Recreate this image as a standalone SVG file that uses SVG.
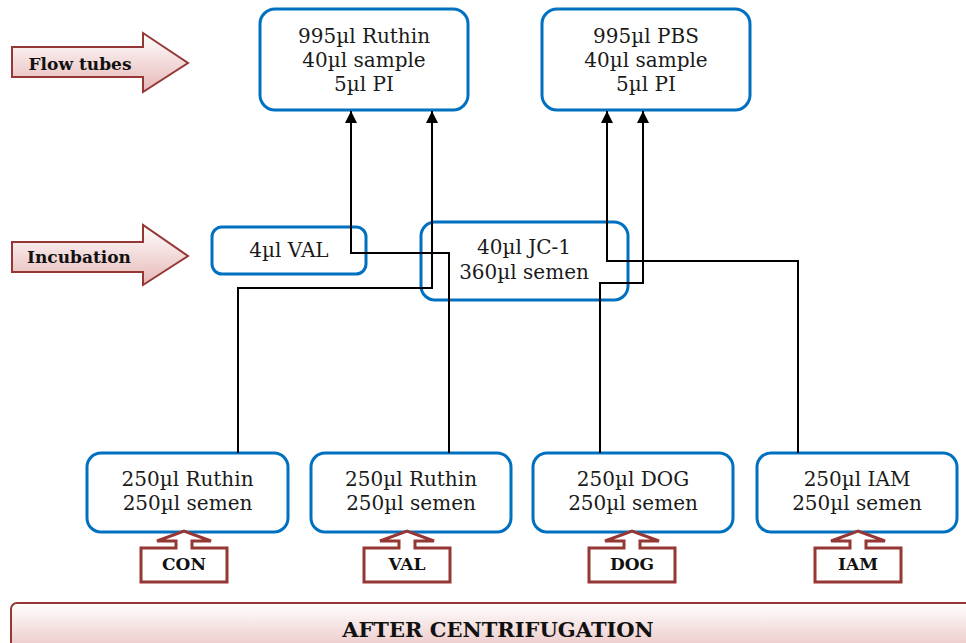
<svg xmlns="http://www.w3.org/2000/svg" width="966" height="643" viewBox="0 0 966 643">
  <style>
    .node { fill: #ffffff; stroke: #0070c0; stroke-width: 3; }
    .txt { font-family: "DejaVu Serif", "Liberation Serif", serif; font-size: 20px; fill: #1a1a1a; text-anchor: middle; }
    .lbl { font-family: "DejaVu Serif", "Liberation Serif", serif; font-size: 17px; font-weight: bold; fill: #111111; text-anchor: middle; }
    .big { font-size: 21px; }
    .tag { fill: url(#pink); stroke: #953735; stroke-width: 2; }
    .call { fill: #ffffff; stroke: #953735; stroke-width: 3; stroke-linejoin: miter; }
    .wire { fill: none; stroke: #000000; stroke-width: 2; }
  </style>
  <defs>
    <linearGradient id="pink" x1="0" y1="0" x2="0" y2="1">
      <stop offset="0" stop-color="#ffffff"/>
      <stop offset="1" stop-color="#e6b7b6"/>
    </linearGradient>
    <marker id="head" markerUnits="userSpaceOnUse" markerWidth="12" markerHeight="12" refX="12" refY="6" orient="auto">
      <path d="M0,0 L12,6 L0,12 Z" fill="#000000"/>
    </marker>
  </defs>

  <rect width="966" height="643" fill="#ffffff"/>

  <!-- stage arrows on the left -->
  <g id="stage-flow">
    <path class="tag" d="M12,47 H143 V33 L188,63 L143,92 V77 H12 Z"/>
    <text class="lbl" x="80" y="70">Flow tubes</text>
  </g>
  <g id="stage-incubation">
    <path class="tag" d="M12,242 H143 V225 L188,256 L143,285 V272 H12 Z"/>
    <text class="lbl" x="79" y="263">Incubation</text>
  </g>

  <!-- flow tubes -->
  <g id="tube-ruthin">
    <rect class="node" x="260" y="9" width="208" height="101" rx="15"/>
    <text class="txt" x="364" y="43">995µl Ruthin</text>
    <text class="txt" x="364" y="67">40µl sample</text>
    <text class="txt" x="364" y="91">5µl PI</text>
  </g>
  <g id="tube-pbs">
    <rect class="node" x="542" y="9" width="208" height="101" rx="15"/>
    <text class="txt" x="646" y="43">995µl PBS</text>
    <text class="txt" x="646" y="67">40µl sample</text>
    <text class="txt" x="646" y="91">5µl PI</text>
  </g>

  <!-- incubation -->
  <g id="inc-val">
    <rect class="node" x="212" y="227" width="154" height="47" rx="10"/>
    <text class="txt" x="289" y="257">4µl VAL</text>
  </g>
  <g id="inc-jc1">
    <rect class="node" x="421" y="222" width="207" height="78" rx="14"/>
    <text class="txt" x="524" y="254">40µl JC-1</text>
    <text class="txt" x="524" y="279">360µl semen</text>
  </g>

  <!-- treatments -->
  <g id="treat-con">
    <rect class="node" x="87" y="453" width="201" height="79" rx="14"/>
    <text class="txt" x="187.5" y="486">250µl Ruthin</text>
    <text class="txt" x="187.5" y="510">250µl semen</text>
  </g>
  <g id="treat-val">
    <rect class="node" x="311" y="453" width="200" height="79" rx="14"/>
    <text class="txt" x="411" y="486">250µl Ruthin</text>
    <text class="txt" x="411" y="510">250µl semen</text>
  </g>
  <g id="treat-dog">
    <rect class="node" x="533" y="453" width="200" height="79" rx="14"/>
    <text class="txt" x="633" y="486">250µl DOG</text>
    <text class="txt" x="633" y="510">250µl semen</text>
  </g>
  <g id="treat-iam">
    <rect class="node" x="757" y="453" width="200" height="79" rx="14"/>
    <text class="txt" x="857" y="486">250µl IAM</text>
    <text class="txt" x="857" y="510">250µl semen</text>
  </g>

  <!-- group callouts -->
  <g id="call-con">
    <path class="call" d="M141,582 V548 H176 V541 H157 L184,531 L211,541 H192 V548 H227 V582 Z"/>
    <text class="lbl" x="184" y="570">CON</text>
  </g>
  <g id="call-val">
    <path class="call" d="M364,582 V548 H399 V541 H380 L407,531 L434,541 H415 V548 H450 V582 Z"/>
    <text class="lbl" x="407" y="570">VAL</text>
  </g>
  <g id="call-dog">
    <path class="call" d="M589,582 V548 H624 V541 H605 L632,531 L659,541 H640 V548 H675 V582 Z"/>
    <text class="lbl" x="632" y="570">DOG</text>
  </g>
  <g id="call-iam">
    <path class="call" d="M815,582 V548 H850 V541 H831 L858,531 L885,541 H866 V548 H901 V582 Z"/>
    <text class="lbl" x="858" y="570">IAM</text>
  </g>

  <!-- bottom banner -->
  <g id="banner">
    <rect class="tag" x="11" y="603" width="975" height="60" rx="6"/>
    <text class="lbl big" x="498" y="637">AFTER CENTRIFUGATION</text>
  </g>

  <!-- connectors -->
  <g id="connectors">
    <path class="wire" d="M238,453 V288 H432 V111" marker-end="url(#head)"/>
    <path class="wire" d="M449,453 V253 H351 V111" marker-end="url(#head)"/>
    <path class="wire" d="M600,453 V283 H643 V111" marker-end="url(#head)"/>
    <path class="wire" d="M798,453 V261 H607 V111" marker-end="url(#head)"/>
  </g>
</svg>
